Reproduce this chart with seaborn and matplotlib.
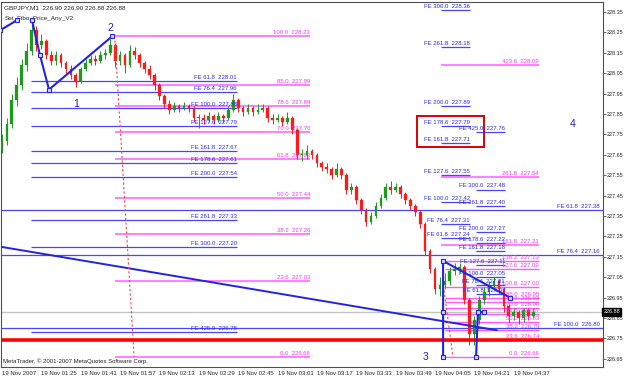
import matplotlib
matplotlib.use('Agg')
import matplotlib.pyplot as plt
import numpy as np
import pandas as pd
import seaborn as sns

sns.set_style('white')
plt.rcParams['font.family'] = ['Liberation Sans', 'DejaVu Sans']

# ---------------- data ----------------
bar_minute = list(range(0, 218, 2))
first_open = 227.68
close = [227.72, 227.80, 227.92, 227.99, 228.09, 228.16, 228.26, 228.19, 228.21, 228.14,
         228.11, 228.14, 228.10, 228.07, 228.04, 228.01, 228.07, 228.10, 228.12, 228.11,
         228.14, 228.15, 228.19, 228.11, 228.14, 228.09, 228.16, 228.14, 228.10, 228.07,
         228.04, 227.99, 227.94, 227.90, 227.87, 227.89, 227.88, 227.89, 227.88, 227.83,
         227.83, 227.82, 227.84, 227.82, 227.84, 227.83, 227.87, 227.92, 227.88, 227.86,
         227.88, 227.86, 227.87, 227.88, 227.83, 227.82, 227.83, 227.81, 227.83, 227.77,
         227.65, 227.65, 227.67, 227.65, 227.61, 227.59, 227.58, 227.55, 227.58, 227.55,
         227.48, 227.49, 227.43, 227.38, 227.32, 227.35, 227.40, 227.44, 227.49, 227.48,
         227.49, 227.46, 227.43, 227.40, 227.37, 227.31, 227.18, 227.09, 226.99, 227.01,
         227.03, 227.08, 227.09, 227.10, 226.94, 226.77, 226.84, 226.94, 226.98, 227.01,
         227.03, 226.99, 226.91, 226.86, 226.88, 226.85, 226.89, 226.86, 226.88]
high = [227.75, 227.83, 227.95, 228.03, 228.12, 228.20, 228.30, 228.28, 228.24, 228.22,
        228.16, 228.16, 228.15, 228.11, 228.09, 228.05, 228.08, 228.12, 228.14, 228.14,
        228.16, 228.17, 228.22, 228.20, 228.16, 228.15, 228.19, 228.18, 228.15, 228.11,
        228.09, 228.05, 228.00, 227.95, 227.92, 227.91, 227.90, 227.91, 227.90, 227.89,
        227.85, 227.85, 227.86, 227.85, 227.86, 227.85, 227.89, 227.95, 227.93, 227.89,
        227.90, 227.89, 227.90, 227.90, 227.89, 227.85, 227.85, 227.84, 227.86, 227.84,
        227.78, 227.68, 227.70, 227.68, 227.66, 227.62, 227.61, 227.59, 227.61, 227.59,
        227.56, 227.51, 227.50, 227.44, 227.39, 227.37, 227.42, 227.46, 227.51, 227.52,
        227.51, 227.50, 227.47, 227.44, 227.41, 227.38, 227.32, 227.19, 227.10, 227.05,
        227.07, 227.10, 227.12, 227.12, 227.11, 226.95, 226.86, 226.96, 227.00, 227.03,
        227.05, 227.04, 227.00, 226.92, 226.90, 226.89, 226.90, 226.90, 226.90]
low = [227.66, 227.70, 227.78, 227.89, 227.97, 228.06, 228.14, 228.16, 228.17, 228.12,
       228.09, 228.09, 228.08, 228.05, 228.02, 227.98, 228.00, 228.06, 228.09, 228.09,
       228.10, 228.12, 228.14, 228.08, 228.09, 228.05, 228.08, 228.12, 228.08, 228.05,
       228.02, 227.97, 227.92, 227.88, 227.85, 227.86, 227.86, 227.87, 227.86, 227.81,
       227.78, 227.80, 227.81, 227.80, 227.81, 227.81, 227.82, 227.86, 227.86, 227.84,
       227.85, 227.84, 227.85, 227.86, 227.81, 227.80, 227.81, 227.79, 227.80, 227.75,
       227.63, 227.62, 227.63, 227.63, 227.59, 227.57, 227.56, 227.53, 227.54, 227.53,
       227.46, 227.46, 227.41, 227.36, 227.30, 227.31, 227.34, 227.39, 227.43, 227.46,
       227.47, 227.44, 227.41, 227.38, 227.35, 227.29, 227.16, 227.07, 226.97, 226.96,
       226.99, 227.01, 227.06, 227.07, 226.92, 226.72, 226.72, 226.82, 226.92, 226.96,
       226.99, 226.97, 226.88, 226.83, 226.84, 226.82, 226.83, 226.84, 226.85]

time_ticks = [0, 16, 32, 48, 64, 80, 96, 112, 128, 144, 160, 176, 192, 208]
time_labels = ['19 Nov 2007', '19 Nov 01:25', '19 Nov 01:41', '19 Nov 01:57', '19 Nov 02:13',
               '19 Nov 02:29', '19 Nov 02:45', '19 Nov 03:01', '19 Nov 03:17', '19 Nov 03:33',
               '19 Nov 03:49', '19 Nov 04:05', '19 Nov 04:21', '19 Nov 04:37']
price_ticks = [226.65, 226.75, 226.85, 226.95, 227.05, 227.15, 227.25, 227.35, 227.45,
               227.55, 227.65, 227.75, 227.85, 227.95, 228.05, 228.15, 228.25, 228.35]
last_price = 226.88
support_price = 226.74

# Fibonacci expansion / retracement levels
left_fe_pct = ['61.8', '76.4', '100.0', '127.6', '161.8', '178.6', '200.0', '261.8', '300.0', '425.0']
left_fe_price = [228.01, 227.96, 227.88, 227.79, 227.67, 227.61, 227.54, 227.33, 227.20, 226.78]
left_fe_span = (11.8, 95.5)

ret_pct = ['100.0', '85.0', '78.6', '70.0', '61.8', '50.0', '38.2', '23.6', '0.0']
ret_price = [228.23, 227.99, 227.89, 227.76, 227.63, 227.44, 227.26, 227.03, 226.66]
ret_span = (45.9, 125.2)

wide_fe_pct = ['61.8', '76.4', '100.0']
wide_fe_price = [227.38, 227.16, 226.80]

r1_fe_pct = ['300.0', '261.8', '200.0', '178.6', '161.8', '127.6', '100.0', '76.4', '61.8']
r1_fe_price = [228.36, 228.18, 227.89, 227.79, 227.71, 227.55, 227.42, 227.31, 227.24]
r1_span = (178.5, 190.2)

r2_fe_pct = ['425.0', '300.0', '261.8', '200.0', '178.6', '161.8', '127.6', '100.0', '76.4', '61.8']
r2_fe_price = [227.76, 227.48, 227.40, 227.27, 227.22, 227.18, 227.11, 227.05, 227.01, 226.97]
r2_span = (192.7, 204.5)

ra_pct = ['423.6', '261.8', '161.8']
ra_price = [228.09, 227.54, 227.21]
ra_span = (178.5, 218.3)

rb_pct = ['138.2', '127.6', '100.0', '85.0', '78.6', '70.0', '61.8', '50.0', '38.2', '23.6', '0.0']
rb_price = [227.13, 227.09, 227.00, 226.95, 226.93, 226.90, 226.87, 226.83, 226.79, 226.74, 226.66]
rb_span = (180.0, 218.3)

# wave points (minute, price)
zig0_t = [-0.8, 6.1]
zig0_p = [228.26, 228.31]
zig1_t = [12.2, 15.4, 19.1, 44.7]
zig1_p = [228.31, 228.14, 227.97, 228.23]
zig3_t = [179.3, 179.3, 179.3, 206.5]
zig3_p = [226.66, 226.88, 227.13, 226.95]
zig4_t = [192.7, 193.5, 196.0]
zig4_p = [226.66, 226.88, 226.88]
trend_t = [-0.8, 201.2]
trend_p = [227.20, 226.79]
dot1_t = [45.9, 53.7]
dot1_p = [228.21, 226.66]
dot2_t = [179.0, 183.3]
dot2_p = [227.05, 226.66]
box_t = (168.7, 195.9)
box_p = (227.69, 227.84)
wave_labels = ['1', '2', '3', '4']
wave_t = [30.1, 43.9, 172.0, 232.0]
wave_p = [227.90, 228.27, 226.66, 227.80]

# ---------------- figure ----------------
fig = plt.figure(figsize=(6.25, 3.8), dpi=100)
ax = fig.add_axes([0.0016, 0.0342, 0.9632, 0.9605])
ax.set_xlim(-0.41, 244.3)
ax.set_ylim(226.61, 228.399)

FS = 4.3
BLUE = '#4646ff'
PINK = '#ff5cff'

# full-width lines
ax.axhline(last_price, color='#c4c4c4', lw=1.0, zorder=1)
ax.axhline(support_price, color='#ff0000', lw=2.6, zorder=6)
for pct, v in zip(wide_fe_pct, wide_fe_price):
    ax.axhline(v, color=BLUE, lw=0.9, zorder=2)
    ax.text(243, v + 0.006, f'FE {pct}  {v:.2f}', ha='right', va='bottom', fontsize=FS, color='#2a2aff')


def level_set(pcts, prices, span, color, prefix, tcolor, lw=0.9):
    for pct, v in zip(pcts, prices):
        ax.plot(span, [v, v], color=color, lw=lw, zorder=2, solid_capstyle='butt')
        ax.text(span[1], v + 0.005, f'{prefix}{pct}  {v:.2f}', ha='right', va='bottom',
                fontsize=FS, color=tcolor, zorder=7)


level_set(left_fe_pct, left_fe_price, left_fe_span, BLUE, 'FE ', '#2a2aff')
level_set(ret_pct, ret_price, ret_span, PINK, '', '#ff33ff', lw=1.1)
level_set(ra_pct, ra_price, ra_span, PINK, '', '#ff33ff', lw=1.1)
level_set(rb_pct, rb_price, rb_span, PINK, '', '#ff33ff', lw=1.0)
level_set(r1_fe_pct, r1_fe_price, r1_span, BLUE, 'FE ', '#2a2aff')
level_set(r2_fe_pct, r2_fe_price, r2_span, BLUE, 'FE ', '#2a2aff')

# candles
opens = [first_open] + close[:-1]
df = pd.DataFrame({'t': bar_minute, 'o': opens, 'h': high, 'l': low, 'c': close})
df['up'] = df['c'] >= df['o']
colors = np.where(df['up'], '#1e9b1e', '#ff1a1a')
ax.vlines(df['t'], df['l'], df['h'], colors=colors, lw=0.7, zorder=3)
body_lo = np.minimum(df['o'], df['c'])
body_h = np.maximum(np.abs(df['c'] - df['o']), 0.004)
ax.bar(df['t'], body_h, bottom=body_lo, width=1.1, color=colors, edgecolor=colors,
       linewidth=0.2, zorder=4)

# trend & wave lines
ZIG = '#2323e6'
for tt, pp in [(zig0_t, zig0_p), (zig1_t, zig1_p), (zig3_t, zig3_p), (zig4_t, zig4_p)]:
    d = pd.DataFrame({'t': tt, 'p': pp})
    sns.lineplot(data=d, x='t', y='p', sort=False, estimator=None, ax=ax, color=ZIG, lw=1.5,
                 marker='s', markersize=3.2, markerfacecolor='#d8d8ff', markeredgecolor=ZIG,
                 markeredgewidth=0.8, zorder=8)
ax.plot(trend_t, trend_p, color=ZIG, lw=1.4, zorder=5)
ax.plot(dot1_t, dot1_p, color='#ff4040', lw=0.8, ls=(0, (2, 2)), zorder=5)
ax.plot(dot2_t, dot2_p, color='#ff4040', lw=0.8, ls=(0, (2, 2)), zorder=5)
ax.add_patch(plt.Rectangle((box_t[0], box_p[0]), box_t[1] - box_t[0], box_p[1] - box_p[0],
                           fill=False, edgecolor='#e00000', lw=1.4, zorder=6))
for lab, tt, pp in zip(wave_labels, wave_t, wave_p):
    ax.text(tt, pp, lab, ha='center', va='center', fontsize=7.5, color='#2020d0', zorder=9)

# axes styling
for s in ax.spines.values():
    s.set_color('#505050')
    s.set_linewidth(0.8)
ax.yaxis.tick_right()
ax.set_yticks(price_ticks)
ax.set_yticklabels([f'{v:.2f}' for v in price_ticks], fontsize=4.0)
ax.set_xticks(time_ticks)
ax.set_xticklabels(time_labels, fontsize=FS, ha='left')
ax.tick_params(axis='both', direction='out', length=2.0, width=0.6, color='#505050', pad=0.8)
ax.set_xlabel('')
ax.set_ylabel('')

ax.text(1.0, 228.385, 'GBPJPY,M1  226.90 226.90 226.88 226.88', ha='left', va='top', fontsize=FS + 0.3)
ax.text(1.0, 228.33, 'Set_Fibo_Price_Any_V2', ha='left', va='top', fontsize=FS + 0.3)
ax.text(0.5, 226.625, 'MetaTrader, \u00a9 2001-2007 MetaQuotes Software Corp.', ha='left',
        va='bottom', fontsize=FS)
ax.text(1.001, last_price, f'{last_price:.2f}', transform=ax.get_yaxis_transform(), ha='left',
        va='center', fontsize=4.0, color='white', zorder=10,
        bbox=dict(boxstyle='square,pad=0.2', fc='black', ec='black'))

fig.savefig('out.png', dpi=100)
